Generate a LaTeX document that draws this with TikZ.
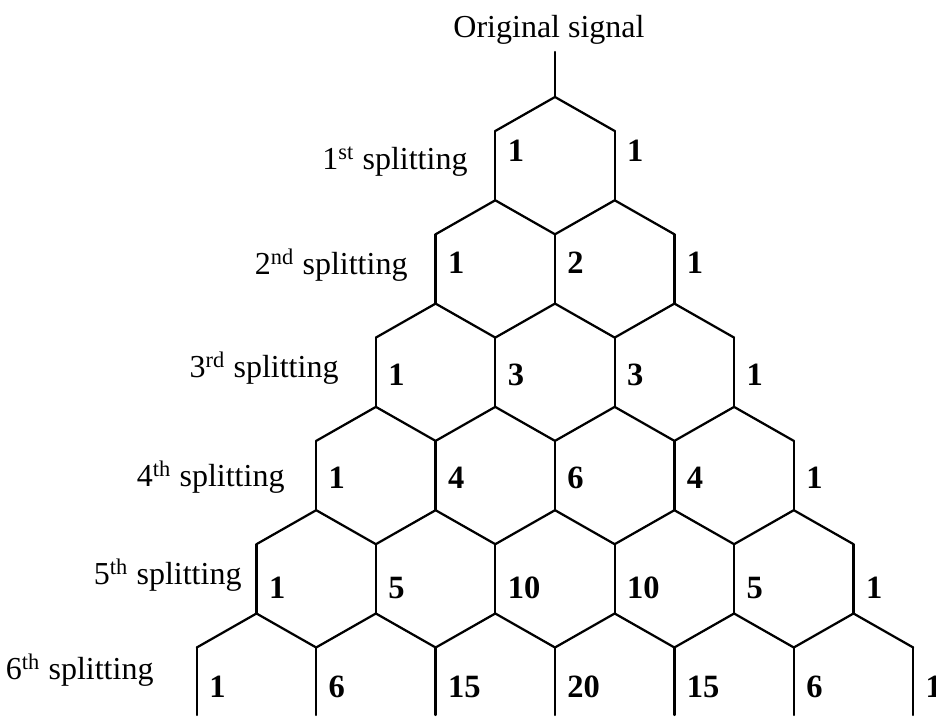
\documentclass[tikz,border=0pt]{standalone}
\usepackage{fontspec}
\setmainfont{Liberation Serif}
\begin{document}
\begin{tikzpicture}[x=0.4pt,y=-0.4pt,
  edge/.style={line width=0.9pt, line cap=round},
  rowlabel/.style={anchor=base east, inner sep=0pt, font=\fontsize{12.8}{15}\selectfont},
  title/.style={anchor=base, inner sep=0pt, font=\fontsize{12.8}{15}\selectfont},
  count/.style={anchor=base west, inner sep=0pt, font=\fontsize{13}{15}\selectfont\bfseries}]
\useasboundingbox (0,0) rectangle (936,717);
% grid parameters: centre line, half hexagon width, row pitch, slope drop
\def\cx{555}
\def\hw{59.7}
\def\rs{103.3}
\def\sl{34}

% signal entering the top cell
\node[title] (title) at (549,38) {Original signal};
\coordinate (apex) at (\cx,97);
\draw[edge] (apex) -- ++(0,-45);

% honeycomb rows: zigzag roof plus vertical walls
\foreach \k in {1,...,6} {
  \pgfmathsetmacro{\A}{97+(\k-1)*\rs}
  \pgfmathsetmacro{\C}{\A+\sl}
  \pgfmathsetmacro{\B}{\k==6 ? 715 : \A+\rs}
  \draw[edge] ({\cx-\k*\hw},\C)
    \foreach \j in {1,...,\k} { -- ({\cx+(2*\j-1-\k)*\hw},\A) -- ({\cx+(2*\j-\k)*\hw},\C) };
  \foreach \m in {0,...,\k}
    \draw[edge] ({\cx+(2*\m-\k)*\hw},\C) -- ({\cx+(2*\m-\k)*\hw},\B);
}

% binomial counts beside each wall
\foreach \k/\base/\vals in {1/162/{1,1}, 2/274/{1,2,1}, 3/386/{1,3,3,1},
    4/489/{1,4,6,4,1}, 5/599/{1,5,10,10,5,1}, 6/698/{1,6,15,20,15,6,1}} {
  \foreach \v [count=\i from 0] in \vals
    \node[count] (n\k-\i) at ({\cx+(2*\i-\k)*\hw+12},\base) {\v};
}

% splitting stage labels
\node[rowlabel] (lab1) at (468,170) {1\textsuperscript{st} splitting};
\node[rowlabel] (lab2) at (408,275) {2\textsuperscript{nd} splitting};
\node[rowlabel] (lab3) at (339,378) {3\textsuperscript{rd} splitting};
\node[rowlabel] (lab4) at (285,487) {4\textsuperscript{th} splitting};
\node[rowlabel] (lab5) at (242,585) {5\textsuperscript{th} splitting};
\node[rowlabel] (lab6) at (154,680) {6\textsuperscript{th} splitting};
\end{tikzpicture}
\end{document}
